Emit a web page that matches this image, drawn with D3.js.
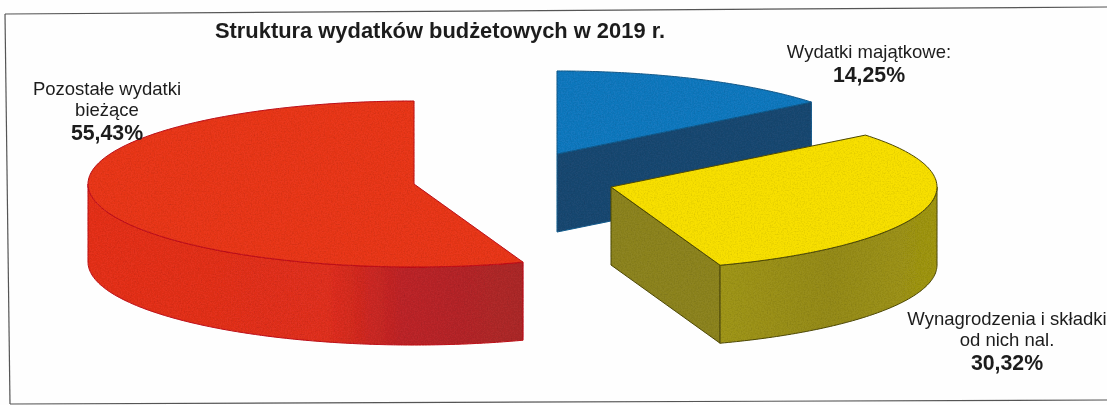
<!DOCTYPE html>
<html>
<head>
<meta charset="utf-8">
<title>Struktura wydatków budżetowych w 2019 r.</title>
<script src="https://cdn.jsdelivr.net/npm/d3@7"></script>
<style>
  html, body { margin: 0; padding: 0; background: #fefefe; }
  svg { display: block; }
  text { font-family: "Liberation Sans", Arial, sans-serif; fill: #1c1c1c; }
</style>
</head>
<body>
<div id="chart"></div>
<script>
const title = "Struktura wydatków budżetowych w 2019 r.";
const categories = ["Wydatki majątkowe", "Wynagrodzenia", "Pozostałe wydatki"];
const values = [14.25, 30.32, 55.43];
const valueLabels = ["14,25%", "30,32%", "55,43%"];
const labelLines = [["Wydatki majątkowe:"], ["Wynagrodzenia i składki", "od nich nal."], ["Pozostałe wydatki", "bieżące"]];

const colorsTop = ["#1479bf", "#f8e000", "#e9371f"];
const colorsWall = ["#1d4d76", "url(#wall1)", "url(#wall2)"];
const colorsDark = ["#1b4a72", "#8d8420", "#a92729"];
const colorsLine = ["#1a5a8c", "#4f4a10", "#c0141c"];

// every slice is pulled out of the pie, so each has its own centre
const centersX = [557, 611, 414];
const centersY = [154, 187, 184];
const labelX = [869, 1007, 107];
const labelY = [58, 325, 95];

const width = 1107, height = 405;
const radiusX = 326, radiusY = 83, depth = 78;

const svg = d3.select("#chart").append("svg").attr("width", width).attr("height", height);
const defs = svg.append("defs");

const soft = defs.append("filter").attr("id", "soft");
soft.append("feGaussianBlur").attr("stdDeviation", 0.45);

// scanner grain on the coloured faces
const grain = defs.append("filter").attr("id", "grain");
grain.append("feTurbulence").attr("type", "fractalNoise").attr("baseFrequency", 0.7).attr("numOctaves", 2).attr("seed", 4).attr("result", "noise");
grain.append("feColorMatrix").attr("in", "noise").attr("type", "matrix")
  .attr("values", "0 0 0 0 0  0 0 0 0 0  0 0 0 0 0  0.45 0 0 0 -0.19").attr("result", "dots");
grain.append("feComposite").attr("in", "dots").attr("in2", "SourceAlpha").attr("operator", "in").attr("result", "clipped");
const merge = grain.append("feMerge").attr("result", "merged");
merge.append("feMergeNode").attr("in", "SourceGraphic");
merge.append("feMergeNode").attr("in", "clipped");
grain.append("feGaussianBlur").attr("in", "merged").attr("stdDeviation", 0.6);

function wallGradient(id, x1, x2, stops) {
  const grad = defs.append("linearGradient").attr("id", id)
    .attr("gradientUnits", "userSpaceOnUse").attr("x1", x1).attr("x2", x2).attr("y1", 0).attr("y2", 0);
  stops.forEach(function(s) {
    grad.append("stop").attr("offset", s[0]).attr("stop-color", s[1]);
  });
}
wallGradient("wall2", 87, 525, [[0, "#e5331e"], [0.55, "#e03020"], [0.72, "#bd2629"], [1, "#ab2a2a"]]);
wallGradient("wall1", 721, 937, [[0, "#a0961a"], [0.5, "#958b1e"], [1, "#a09618"]]);

const pie = d3.pie().sort(null).startAngle(0).endAngle(2 * Math.PI);
const slices = pie(values);

const line = d3.line();
const page = svg.append("g").attr("filter", "url(#soft)");
const g = svg.append("g").attr("filter", "url(#grain)");

// the page frame, slightly crooked like the scan
const frame = [[5, 14], [1107, 7]];
const frameLeft = [[5, 14], [10, 404]];
const frameBottom = [[10, 404], [1107, 400]];
[frame, frameLeft, frameBottom].forEach(function(d) {
  page.append("path").attr("d", line(d)).attr("fill", "none").attr("stroke", "#555").attr("stroke-width", 1.2);
});

function arcPoints(a0, a1, sx, sy, dy) {
  const angle = d3.scaleLinear().domain([0, 90]).range([a0, a1]);
  return d3.range(91).map(function(i) {
    const a = angle(i);
    return [sx(Math.sin(a)), sy(-Math.cos(a)) + dy];
  });
}

const drawOrder = [0, 2, 1];
drawOrder.forEach(function(i) {
  const s = slices[i];
  const sx = d3.scaleLinear().domain([-1, 1]).range([centersX[i] - radiusX, centersX[i] + radiusX]);
  const sy = d3.scaleLinear().domain([-1, 1]).range([centersY[i] - radiusY, centersY[i] + radiusY]);
  const c = [sx(0), sy(0)];
  const stroke = colorsLine[i];

  // cut faces that look towards the viewer
  [[s.startAngle, s.startAngle - Math.PI / 2], [s.endAngle, s.endAngle + Math.PI / 2]].forEach(function(f) {
    if (Math.cos(f[1]) < -0.01) {
      const p = [sx(Math.sin(f[0])), sy(-Math.cos(f[0]))];
      g.append("path")
        .attr("d", line([c, p, [p[0], p[1] + depth], [c[0], c[1] + depth]]) + "Z")
        .attr("fill", colorsDark[i]).attr("stroke", stroke).attr("stroke-width", 1).attr("stroke-linejoin", "round");
    }
  });

  // outer wall, only the front half of the rim
  const a0 = Math.max(s.startAngle, Math.PI / 2);
  const a1 = Math.min(s.endAngle, 1.5 * Math.PI);
  if (a1 > a0) {
    const topEdge = arcPoints(a0, a1, sx, sy, 0);
    const bottomEdge = arcPoints(a1, a0, sx, sy, depth);
    g.append("path")
      .attr("d", line(topEdge.concat(bottomEdge)) + "Z")
      .attr("fill", colorsWall[i])
      .attr("stroke", stroke).attr("stroke-width", 1).attr("stroke-linejoin", "round");
  }

  // top face
  const rim = arcPoints(s.startAngle, s.endAngle, sx, sy, 0);
  g.append("path")
    .attr("d", line([c].concat(rim)) + "Z")
    .attr("fill", colorsTop[i]).attr("stroke", stroke).attr("stroke-width", 1).attr("stroke-linejoin", "round");
});

// thin green seam on the yellow wall
const seamAngle = 115.2 * Math.PI / 180;
const seamX = centersX[1] + radiusX * Math.sin(seamAngle);
const seamY = centersY[1] - radiusY * Math.cos(seamAngle);
page.append("path").attr("d", line([[seamX, seamY], [seamX, seamY + depth]]))
  .attr("stroke", "#6f9a1e").attr("stroke-width", 1).attr("fill", "none");

// title and labels
const words = svg.append("g").attr("filter", "url(#soft)");
words.append("text").attr("x", 440).attr("y", 37.5).attr("text-anchor", "middle")
  .attr("font-size", 21.9).attr("font-weight", "bold").text(title);

labelLines.forEach(function(lines, i) {
  const t = words.append("text").attr("text-anchor", "middle");
  lines.forEach(function(l, j) {
    t.append("tspan").attr("x", labelX[i]).attr("y", labelY[i] + j * 20.5)
      .attr("font-size", 18.5).text(l);
  });
  t.append("tspan").attr("x", labelX[i]).attr("y", labelY[i] + (lines.length - 1) * 20.5 + 24)
    .attr("font-size", 21.3).attr("font-weight", "bold").text(valueLabels[i]);
});
</script>
</body>
</html>
